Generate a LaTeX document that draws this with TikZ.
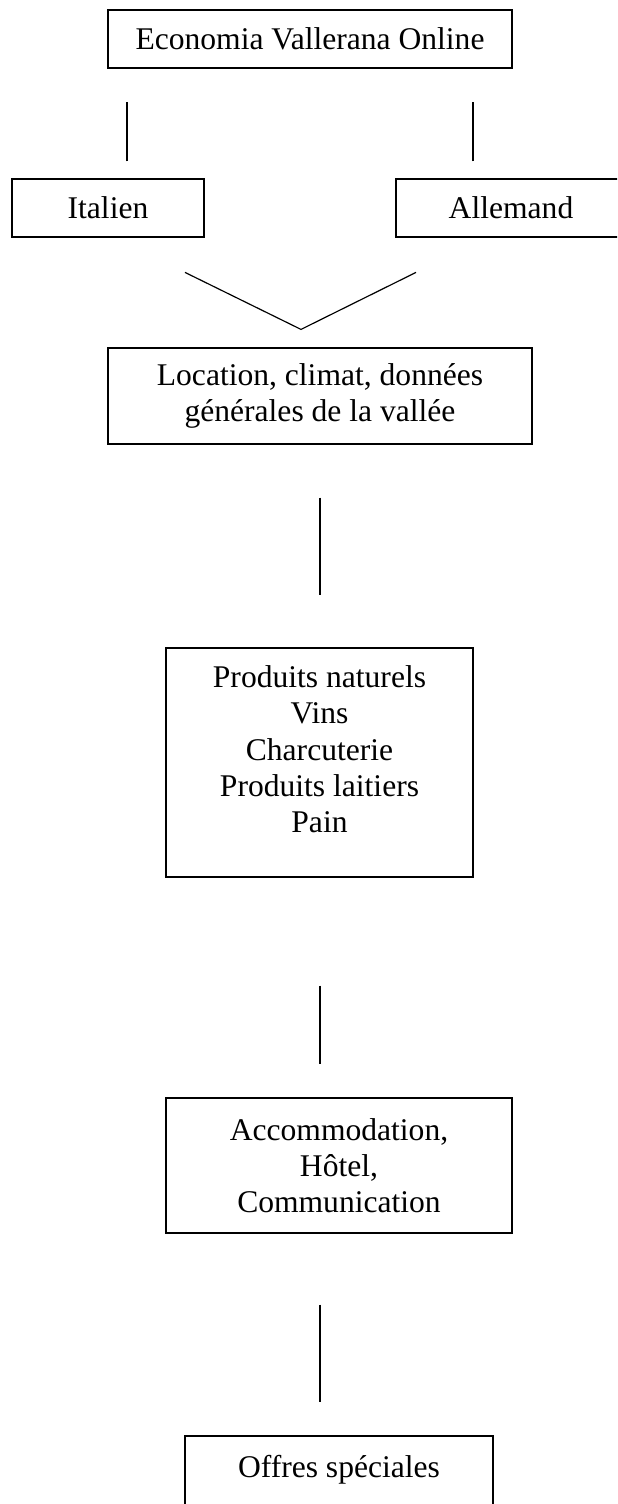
\documentclass[tikz,border=0pt]{standalone}
\usepackage{fontspec}
\setmainfont{Liberation Serif}
\begin{document}
\begin{tikzpicture}[x=0.38pt,y=0.38pt,yscale=-1,xscale=1,
  font=\fontsize{12pt}{13.8pt}\selectfont,
  box/.style={draw, line width=0.45pt, inner sep=0pt, align=center},
  wh/.style 2 args={minimum width=#1*0.38pt, minimum height=#2*0.38pt},
  link/.style={line width=0.45pt}]
%set diagram to the page, 617 wide and 1504 high
\fill[white] (0,0) rectangle (617,1504);
\clip (0,0) rectangle (617,1504);

%Shape: Rectangle
\node[box, wh={404}{58}] (eco) at (310,39) {Economia Vallerana Online};
%Shape: Rectangle
\node[box, wh={192}{58}] (ital) at (108,208) {Italien};
%Shape: Rectangle
\node[box, wh={230}{58}] (alle) at (511,208) {Allemand};
%Shape: Rectangle
\node[box, wh={424}{96}] (loc) at (320,396) {Location, climat, données\\générales de la vallée};
%Shape: Rectangle
\node[box, wh={307}{229}] (prod) at (319.5,762.5) {};
% Text Node
\node[align=center] (prodtext) at (319.5,749.5) {Produits naturels\\Vins\\Charcuterie\\Produits laitiers\\Pain};
%Shape: Rectangle
\node[box, wh={346}{135}] (acc) at (339,1165.5) {Accommodation,\\Hôtel,\\Communication};
%Shape: Rectangle
\node[box, minimum width=308*0.38pt, text height=41*0.38pt, text depth=100*0.38pt] (offr) at (339,1506.5) {Offres spéciales};

%Straight Lines
\draw[link] (ital.north) ++(19,-17) -- ++(0,-59);
%Straight Lines
\draw[link] (alle.north) ++(-38,-17) -- ++(0,-59);
%Straight Lines
\draw[link] (loc.north) ++(-135,-75) -- ++(116,57) -- ++(115,-57);
%Straight Lines
\draw[link] (loc.south) ++(0,53) -- ++(0,97);
%Straight Lines
\draw[link] (prod.south) ++(0.5,108) -- ++(0,78);
%Straight Lines
\draw[link] (acc.south) ++(-19,71) -- ++(0,97);

\end{tikzpicture}
\end{document}
